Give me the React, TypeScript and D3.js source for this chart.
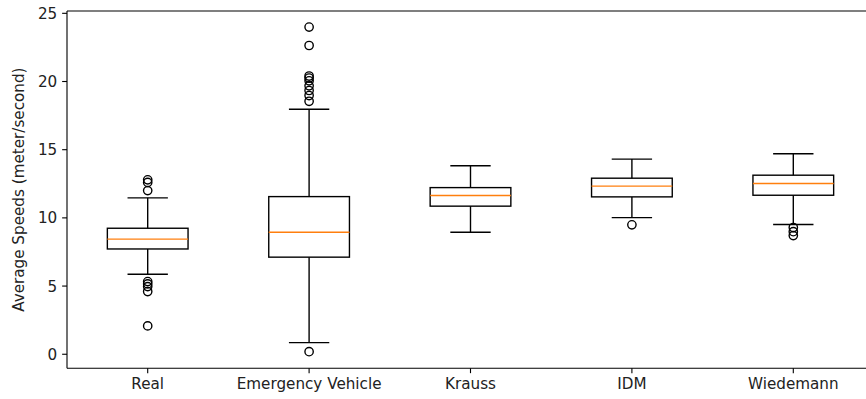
import React from "react";
import * as d3 from "d3";

const categories = ["Real", "Emergency Vehicle", "Krauss", "IDM", "Wiedemann"];
const q1 = [7.72, 7.12, 10.86, 11.54, 11.66];
const medians = [8.44, 8.95, 11.64, 12.33, 12.52];
const q3 = [9.24, 11.56, 12.22, 12.91, 13.13];
const whiskerLow = [5.87, 0.85, 8.95, 10.02, 9.51];
const whiskerHigh = [11.47, 17.97, 13.82, 14.31, 14.7];
const outliers: number[][] = [
  [12.79, 12.6, 12.0, 5.33, 5.16, 4.96, 4.6, 2.08],
  [23.99, 22.64, 20.4, 20.25, 20.05, 19.68, 19.34, 18.97, 18.55, 0.19],
  [],
  [9.49],
  [9.29, 8.99, 8.7],
];
const yTicks = [0, 5, 10, 15, 20, 25];

const W = 866;
const H = 399;
const left = 67;
const right = 874;
const top = 11;
const bottom = 368.3;
const FONT = "DejaVu Sans, sans-serif";
const FS = 15.2;
const LW = 1.39;

export default function App() {
  const x = d3.scaleLinear().domain([0.5, 5.5]).range([left, right]);
  const y = d3.scaleLinear().domain([-1.03, 25.17]).range([bottom, top]);
  const bw = x(1.25) - x(1);
  const cw = x(1.125) - x(1);
  const tick = 4.86;
  return (
    <div style={{ position: "absolute", left: 0, top: 0 }}>
      <svg width={W} height={H} style={{ display: "block", background: "#fff" }}>
        {categories.map((c, i) => {
          const cx = x(i + 1);
          return (
            <g key={c} fill="none" stroke="#000" strokeWidth={LW}>
              <rect x={cx - bw} y={y(q3[i])} width={2 * bw} height={y(q1[i]) - y(q3[i])} />
              <line x1={cx} x2={cx} y1={y(q3[i])} y2={y(whiskerHigh[i])} />
              <line x1={cx} x2={cx} y1={y(q1[i])} y2={y(whiskerLow[i])} />
              <line x1={cx - cw} x2={cx + cw} y1={y(whiskerHigh[i])} y2={y(whiskerHigh[i])} />
              <line x1={cx - cw} x2={cx + cw} y1={y(whiskerLow[i])} y2={y(whiskerLow[i])} />
              <line x1={cx - bw} x2={cx + bw} y1={y(medians[i])} y2={y(medians[i])} stroke="#ff7f0e" />
              {outliers[i].map((v, j) => (
                <circle key={j} cx={cx} cy={y(v)} r={4.17} stroke="#000" strokeWidth={LW} fill="none" />
              ))}
            </g>
          );
        })}
        <g stroke="#000" strokeWidth={1.11} fill="none">
          <line x1={left} x2={left} y1={top} y2={bottom} />
          <line x1={left} x2={W + 10} y1={top} y2={top} />
          <line x1={left} x2={W + 10} y1={bottom} y2={bottom} />
        </g>
        {yTicks.map((t) => (
          <g key={t}>
            <line x1={left - tick} x2={left} y1={y(t)} y2={y(t)} stroke="#000" strokeWidth={1.11} />
            <text x={left - tick - 4.86} y={y(t)} dy="0.36em" textAnchor="end" fontFamily={FONT} fontSize={FS} fill="#222">
              {t}
            </text>
          </g>
        ))}
        {categories.map((c, i) => (
          <g key={c}>
            <line x1={x(i + 1)} x2={x(i + 1)} y1={bottom} y2={bottom + tick} stroke="#000" strokeWidth={1.11} />
            <text x={x(i + 1)} y={bottom + tick + 4.3} dy="0.76em" textAnchor="middle" fontFamily={FONT} fontSize={FS} fill="#222">
              {c}
            </text>
          </g>
        ))}
        <text
          transform={`translate(${18.5},${(top + bottom) / 2}) rotate(-90)`}
          textAnchor="middle"
          dy="0.36em"
          fontFamily={FONT}
          fontSize={FS}
          fill="#222"
        >
          Average Speeds (meter/second)
        </text>
      </svg>
    </div>
  );
}
